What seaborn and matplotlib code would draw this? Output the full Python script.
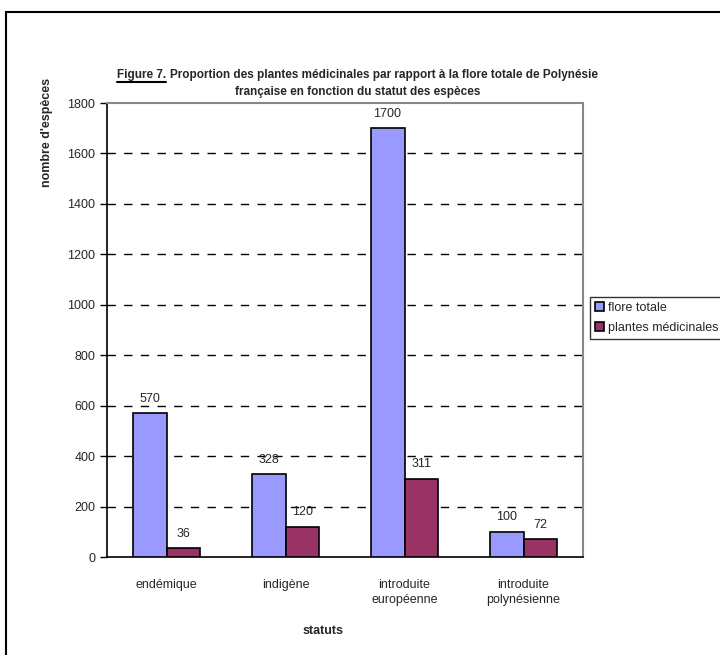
import matplotlib
matplotlib.use("Agg")
import matplotlib.pyplot as plt
import seaborn as sns
import pandas as pd
from matplotlib.patches import Rectangle

# data
statuts = ["endémique", "indigène", "introduite\neuropéenne", "introduite\npolynésienne"]
flore_totale = [570, 328, 1700, 100]
plantes_medicinales = [36, 120, 311, 72]
series = ["flore totale", "plantes médicinales"]
yticks = [0, 200, 400, 600, 800, 1000, 1200, 1400, 1600, 1800]

df = pd.DataFrame({
    "statut": statuts * 2,
    "serie": [series[0]] * 4 + [series[1]] * 4,
    "n": flore_totale + plantes_medicinales,
})

sns.set_style("white")
plt.rcParams["font.family"] = ["Liberation Sans", "DejaVu Sans"]

fig = plt.figure(figsize=(7.2, 6.55), dpi=100)
ax = fig.add_axes([107/720, 1-557/655, 476/720, 454/655])

sns.barplot(data=df, x="statut", y="n", hue="serie", order=statuts,
            hue_order=series, palette=["#9999FF", "#993366"],
            width=0.57, edgecolor="black", linewidth=1.2, saturation=1,
            ax=ax, zorder=3)

for c in ax.containers:
    ax.bar_label(c, padding=6, fontsize=9)

ax.set_ylim(0, 1800)
ax.set_xlim(-0.5, 3.5)
ax.set_yticks(yticks)
ax.set_yticklabels([str(t) for t in yticks], fontsize=9)
ax.set_xticks(range(4))
ax.set_xticklabels(statuts, fontsize=9, linespacing=1.3)
ax.set_xticks([-0.5, 0.5, 1.5, 2.5, 3.5], minor=True)
ax.tick_params(axis="x", which="major", length=0, pad=16)
ax.tick_params(axis="x", which="minor", length=5, width=1, direction="out", color="black")
ax.tick_params(axis="y", length=5, width=1, direction="out", color="black", left=True)

for y in yticks[1:-1]:
    ax.axhline(y, color="black", linestyle=(0, (6, 6)), linewidth=1, zorder=1)

for side in ["left", "bottom"]:
    ax.spines[side].set_color("black")
    ax.spines[side].set_linewidth(1.2)
for side in ["top", "right"]:
    ax.spines[side].set_visible(True)
    ax.spines[side].set_color("#888888")
    ax.spines[side].set_linewidth(1.5)

ax.set_ylabel("")
ax.set_xlabel("statuts", fontsize=9, fontweight="bold")
ax.xaxis.set_label_coords(0.454, -0.15)
fig.text(47/720, 1-78/655, "nombre d'espèces", rotation=90, ha="center", va="top",
         fontsize=9, fontweight="bold")

# title, first part underlined
t1 = fig.text(117/720, 1-75/655, "Figure 7.", fontsize=8.5, fontweight="bold", va="center")
fig.canvas.draw()
bb = t1.get_window_extent()
fig.text(bb.x1/720 + 0.005, 1-75/655,
         "Proportion des plantes médicinales par rapport à la flore totale de Polynésie",
         fontsize=8.5, fontweight="bold", va="center")
fig.add_artist(plt.Line2D([bb.x0/720, bb.x1/720], [(bb.y0-1)/655]*2, color="black", linewidth=1.5))
fig.text(358/720, 1-92/655, "française en fonction du statut des espèces",
         fontsize=8.5, fontweight="bold", ha="center", va="center")

leg = ax.legend(loc="upper left", bbox_to_anchor=(590/720, 1-297/655),
                bbox_transform=fig.transFigure, frameon=True, fancybox=False,
                fontsize=9, handlelength=0.7, handleheight=0.7, handletextpad=0.3,
                borderpad=0.4, labelspacing=0.6, borderaxespad=0)
leg.get_frame().set_edgecolor("black")
leg.get_frame().set_linewidth(1)

# outer chart-area border (right and bottom edges are cut off)
fig.add_artist(Rectangle((6/720, -0.05), 1.1, 1-12/655+0.05, transform=fig.transFigure,
                         fill=False, edgecolor="black", linewidth=1.5))

fig.savefig("out.png", dpi=100)
